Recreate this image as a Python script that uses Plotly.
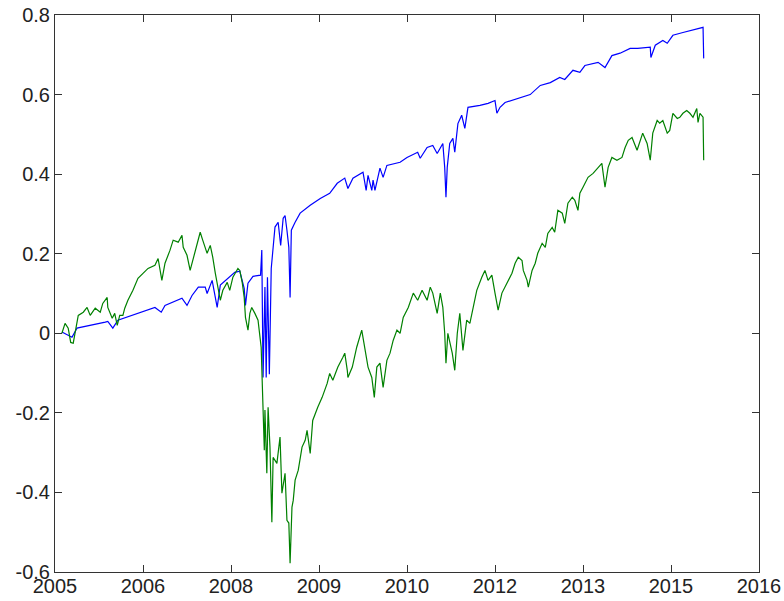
import plotly.graph_objects as go

# Two cumulative return series (decimal year, value)
blue_t = [2005.41, 2005.57, 2005.65, 2005.82, 2006.10, 2006.14, 2006.22, 2006.30, 2006.62, 2006.89,
          2006.99, 2007.05, 2007.32, 2007.40, 2007.48, 2007.58, 2007.69, 2007.72, 2007.80, 2007.88,
          2007.93, 2008.05, 2008.16, 2008.24, 2008.31, 2008.33, 2008.37, 2008.45, 2008.53, 2008.57,
          2008.59, 2008.60, 2008.61, 2008.64, 2008.66, 2008.68, 2008.71, 2008.74, 2008.77, 2008.80,
          2008.85, 2008.89, 2008.93, 2008.96, 2008.99, 2009.02, 2009.04, 2009.06, 2009.12, 2009.20,
          2009.36, 2009.52, 2009.67, 2009.79, 2009.91, 2009.96, 2010.04, 2010.20, 2010.25, 2010.28,
          2010.34, 2010.36, 2010.39, 2010.47, 2010.52, 2010.58, 2010.79, 2010.90, 2011.07, 2011.11,
          2011.22, 2011.31, 2011.38, 2011.47, 2011.50, 2011.52, 2011.54, 2011.58, 2011.63, 2011.66,
          2011.71, 2011.77, 2011.82, 2011.87, 2012.06, 2012.19, 2012.30, 2012.33, 2012.38, 2012.46,
          2012.86, 2013.02, 2013.18, 2013.33, 2013.41, 2013.54, 2013.65, 2013.73, 2013.94, 2014.05,
          2014.16, 2014.29, 2014.45, 2014.57, 2014.77, 2014.78, 2014.85, 2014.97, 2015.04, 2015.13,
          2015.29, 2015.43, 2015.51, 2015.61, 2015.62]
blue_v = [0.003, -0.010, 0.013, 0.018, 0.028, 0.030, 0.013, 0.033, 0.050, 0.065,
          0.053, 0.070, 0.088, 0.070, 0.095, 0.116, 0.116, 0.100, 0.133, 0.065,
          0.121, 0.138, 0.153, 0.156, 0.113, 0.070, 0.126, 0.143, 0.146, 0.146,
          0.209, -0.068, -0.111, 0.116, -0.111, 0.141, -0.103, 0.163, 0.209, 0.267,
          0.279, 0.221, 0.289, 0.296, 0.259, 0.216, 0.090, 0.259, 0.279, 0.302,
          0.322, 0.339, 0.352, 0.377, 0.390, 0.364, 0.390, 0.405, 0.359, 0.397,
          0.359, 0.385, 0.359, 0.415, 0.392, 0.422, 0.430, 0.442, 0.455, 0.440,
          0.467, 0.472, 0.452, 0.477, 0.417, 0.342, 0.417, 0.477, 0.490, 0.455,
          0.527, 0.548, 0.515, 0.568, 0.573, 0.578, 0.585, 0.553, 0.568, 0.580,
          0.600, 0.623, 0.630, 0.643, 0.638, 0.661, 0.656, 0.673, 0.681, 0.668,
          0.698, 0.704, 0.716, 0.716, 0.719, 0.693, 0.724, 0.736, 0.729, 0.749,
          0.756, 0.762, 0.766, 0.769, 0.691]

green_t = [2005.41, 2005.46, 2005.51, 2005.55, 2005.59, 2005.63, 2005.67, 2005.75, 2005.81, 2005.86,
           2005.94, 2006.02, 2006.06, 2006.13, 2006.14, 2006.21, 2006.25, 2006.29, 2006.33, 2006.38,
           2006.41, 2006.46, 2006.54, 2006.62, 2006.70, 2006.78, 2006.89, 2006.94, 2007.00, 2007.05,
           2007.13, 2007.18, 2007.26, 2007.32, 2007.34, 2007.40, 2007.45, 2007.50, 2007.56, 2007.61,
           2007.65, 2007.72, 2007.77, 2007.81, 2007.85, 2007.88, 2007.93, 2007.97, 2008.04, 2008.08,
           2008.13, 2008.21, 2008.24, 2008.28, 2008.31, 2008.33, 2008.37, 2008.40, 2008.43, 2008.48,
           2008.53, 2008.58, 2008.59, 2008.61, 2008.63, 2008.64, 2008.67, 2008.69, 2008.72, 2008.75,
           2008.77, 2008.83, 2008.88, 2008.91, 2008.96, 2008.99, 2009.02, 2009.04, 2009.07, 2009.09,
           2009.12, 2009.17, 2009.23, 2009.28, 2009.31, 2009.36, 2009.40, 2009.48, 2009.55, 2009.63,
           2009.67, 2009.72, 2009.80, 2009.88, 2009.91, 2009.95, 2009.96, 2010.03, 2010.10, 2010.18,
           2010.23, 2010.28, 2010.34, 2010.38, 2010.42, 2010.47, 2010.52, 2010.58, 2010.63, 2010.68,
           2010.74, 2010.79, 2010.84, 2010.92, 2011.00, 2011.07, 2011.14, 2011.22, 2011.27, 2011.31,
           2011.38, 2011.43, 2011.47, 2011.50, 2011.52, 2011.55, 2011.62, 2011.66, 2011.70, 2011.74,
           2011.79, 2011.85, 2011.90, 2011.95, 2012.01, 2012.09, 2012.14, 2012.19, 2012.25, 2012.30,
           2012.33, 2012.35, 2012.41, 2012.46, 2012.51, 2012.57, 2012.62, 2012.67, 2012.73, 2012.75,
           2012.81, 2012.83, 2012.89, 2012.94, 2012.98, 2013.05, 2013.10, 2013.14, 2013.21, 2013.25,
           2013.30, 2013.37, 2013.41, 2013.46, 2013.53, 2013.57, 2013.62, 2013.65, 2013.70, 2013.78,
           2013.86, 2013.94, 2014.00, 2014.05, 2014.10, 2014.16, 2014.24, 2014.32, 2014.37, 2014.42,
           2014.48, 2014.56, 2014.61, 2014.65, 2014.72, 2014.77, 2014.81, 2014.88, 2014.92, 2014.97,
           2015.04, 2015.08, 2015.13, 2015.20, 2015.24, 2015.29, 2015.35, 2015.40, 2015.45, 2015.51,
           2015.53, 2015.56, 2015.61, 2015.62]
green_v = [0.000, 0.025, 0.013, -0.023, -0.025, 0.015, 0.045, 0.053, 0.065, 0.045,
           0.063, 0.053, 0.075, 0.090, 0.065, 0.038, 0.050, 0.020, 0.045, 0.045,
           0.063, 0.083, 0.108, 0.138, 0.151, 0.163, 0.171, 0.188, 0.133, 0.176,
           0.209, 0.234, 0.229, 0.246, 0.216, 0.196, 0.158, 0.188, 0.226, 0.254,
           0.234, 0.201, 0.221, 0.191, 0.151, 0.126, 0.083, 0.108, 0.128, 0.108,
           0.141, 0.163, 0.158, 0.126, 0.090, 0.040, 0.008, 0.050, 0.065, 0.050,
           0.033, -0.035, -0.085, -0.186, -0.294, -0.193, -0.352, -0.186, -0.286, -0.475,
           -0.312, -0.327, -0.261, -0.402, -0.352, -0.470, -0.477, -0.578, -0.437, -0.420,
           -0.369, -0.344, -0.286, -0.269, -0.244, -0.302, -0.219, -0.186, -0.161, -0.126,
           -0.101, -0.118, -0.085, -0.060, -0.050, -0.093, -0.111, -0.085, -0.035, 0.008,
           -0.043, -0.085, -0.111, -0.161, -0.085, -0.075, -0.136, -0.068, -0.050, -0.018,
           0.008, 0.000, 0.040, 0.065, 0.101, 0.083, 0.108, 0.083, 0.116, 0.101,
           0.050, 0.101, 0.065, 0.000, -0.075, 0.000, -0.050, -0.093, 0.000, 0.050,
           -0.043, 0.033, 0.025, 0.065, 0.108, 0.141, 0.158, 0.133, 0.146, 0.101,
           0.075, 0.058, 0.101, 0.116, 0.133, 0.151, 0.176, 0.191, 0.183, 0.158,
           0.133, 0.116, 0.158, 0.176, 0.201, 0.226, 0.216, 0.251, 0.266, 0.254,
           0.309, 0.302, 0.276, 0.327, 0.342, 0.334, 0.309, 0.352, 0.367, 0.392,
           0.402, 0.417, 0.427, 0.367, 0.417, 0.442, 0.435, 0.442, 0.467, 0.485,
           0.492, 0.460, 0.485, 0.503, 0.477, 0.435, 0.503, 0.535, 0.528, 0.535,
           0.503, 0.510, 0.553, 0.540, 0.543, 0.553, 0.560, 0.553, 0.543, 0.565,
           0.530, 0.553, 0.543, 0.435]

# Date ticks: evenly spaced, labelled by year
x_start = 2005.3
x_step = 1.4
tick_labels = ["2005", "2006", "2008", "2009", "2010", "2012", "2013", "2015", "2016"]
tick_vals = [x_start + i * x_step for i in range(len(tick_labels))]

fig = go.Figure()
fig.add_trace(go.Scatter(x=blue_t, y=blue_v, mode="lines",
                         line=dict(color="#0000ff", width=1.2), showlegend=False))
fig.add_trace(go.Scatter(x=green_t, y=green_v, mode="lines",
                         line=dict(color="#008000", width=1.2), showlegend=False))

axis_common = dict(showline=True, linecolor="#333333", linewidth=1, mirror="ticks",
                   ticks="inside", ticklen=7, tickcolor="#333333", showgrid=False,
                   zeroline=False, automargin=False,
                   tickfont=dict(family="Liberation Sans", size=20, color="#222222"))

fig.update_xaxes(range=[tick_vals[0], tick_vals[-1]], tickmode="array",
                 tickvals=tick_vals, ticktext=tick_labels, ticklabelstandoff=-4, **axis_common)
fig.update_yaxes(range=[-0.6, 0.8], tickmode="array",
                 tickvals=[-0.6, -0.4, -0.2, 0, 0.2, 0.4, 0.6, 0.8],
                 ticktext=["-0.6", "-0.4", "-0.2", "0", "0.2", "0.4", "0.6", "0.8"],
                 **axis_common)

fig.update_layout(width=784, height=601, margin=dict(l=55, r=25, t=15, b=29),
                  paper_bgcolor="white", plot_bgcolor="white")

fig.write_html("out.html")
